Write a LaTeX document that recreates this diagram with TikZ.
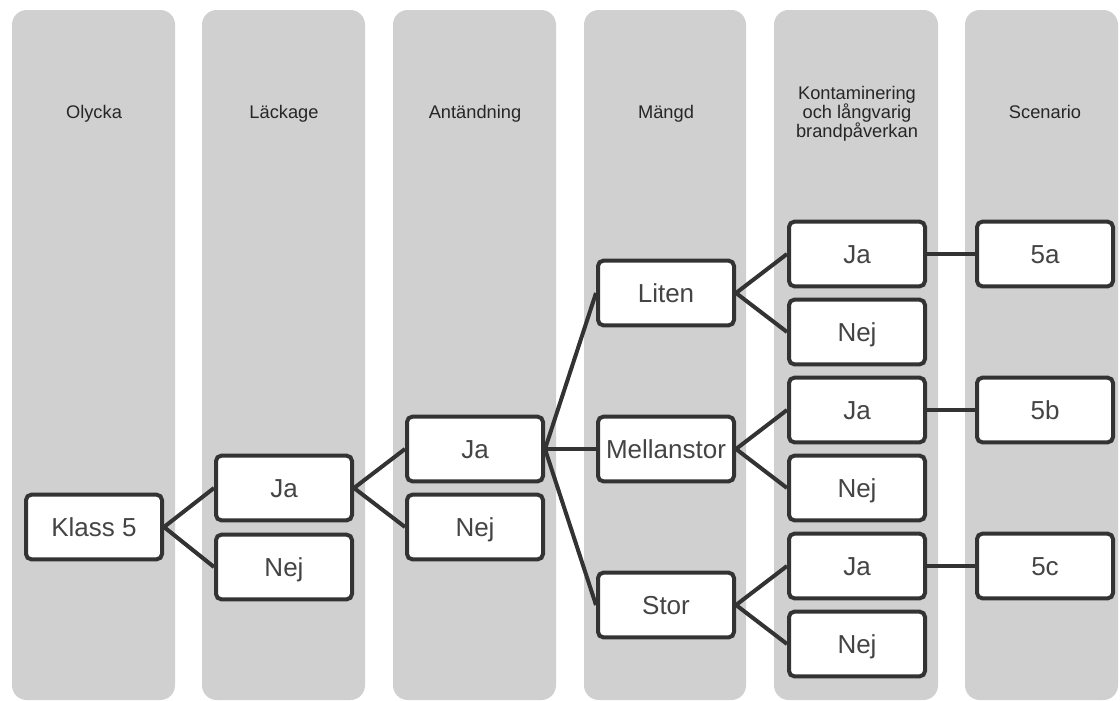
\documentclass[tikz,border=0pt]{standalone}
\usepackage{fontspec}
\setmainfont{Liberation Sans}
\usepackage{tikz}
\definecolor{lanegray}{HTML}{D0D0D0}
\definecolor{boxline}{HTML}{333333}
\definecolor{boxtext}{HTML}{444444}
\tikzset{
    lane/.style={fill=lanegray, rounded corners=11pt},
    lanetitle/.style={align=center, font=\fontsize{13.7}{14.3}\selectfont, text=black!85,
        text depth=0pt},
    stepbox/.style={draw=boxline, line width=3pt, rounded corners=4pt, fill=white,
        minimum width=102pt, minimum height=48.5pt, inner sep=0pt,
        text height=14pt, text depth=0pt,
        font=\fontsize{19.5}{22}\selectfont, text=boxtext},
    branch/.style={draw=boxline, line width=3pt}
}

\begin{document}
\begin{tikzpicture}[x=0.75pt, y=-0.75pt]
        \useasboundingbox (0,0) rectangle (1120,700);

        % lanes with titles
        \foreach \lx/\lw/\cx/\ttl [count=\c] in {12/163/94/Olycka, 202/163/284/Läckage,
                393/163/475/Antändning, 584/162/666/Mängd,
                774/164/857/{Kontaminering\\och långvarig\\brandpåverkan}, 965/153/1045/Scenario}
        {
            \fill[lane] (\lx,10) rectangle ++(\lw,690);
            \node[lanetitle] (title\c) at (\cx,112) {\ttl};
        }

        % Olycka
        \node[stepbox] (k5) at (94,527) {Klass 5};

        % Läckage
        \node[stepbox] (lja) at (284,488) {Ja};
        \node[stepbox] (lnej) at (284,567) {Nej};

        % Antändning
        \node[stepbox] (aja) at (475,449) {Ja};
        \node[stepbox] (anej) at (475,527) {Nej};

        % Mängd
        \node[stepbox] (liten) at (666,293) {Liten};
        \node[stepbox] (mellan) at (666,449) {Mellanstor};
        \node[stepbox] (stor) at (666,605) {Stor};

        % Kontaminering och långvarig brandpåverkan
        \foreach \n/\y/\t in {kja1/254/Ja, knej1/332/Nej, kja2/410/Ja,
                knej2/488/Nej, kja3/566/Ja, knej3/644/Nej}
            \node[stepbox] (\n) at (857,\y) {\t};

        % Scenario
        \foreach \n/\y/\t in {s5a/254/5a, s5b/410/5b, s5c/566/5c}
            \node[stepbox] (\n) at (1045,\y) {\t};

        % branches
        \foreach \a/\b in {k5/lja, k5/lnej, lja/aja, lja/anej, aja/liten, aja/mellan, aja/stor,
                liten/kja1, liten/knej1, mellan/kja2, mellan/knej2, stor/kja3, stor/knej3,
                kja1/s5a, kja2/s5b, kja3/s5c}
            \draw[branch] (\a.east) -- (\b.west);
    \end{tikzpicture}
\end{document}
